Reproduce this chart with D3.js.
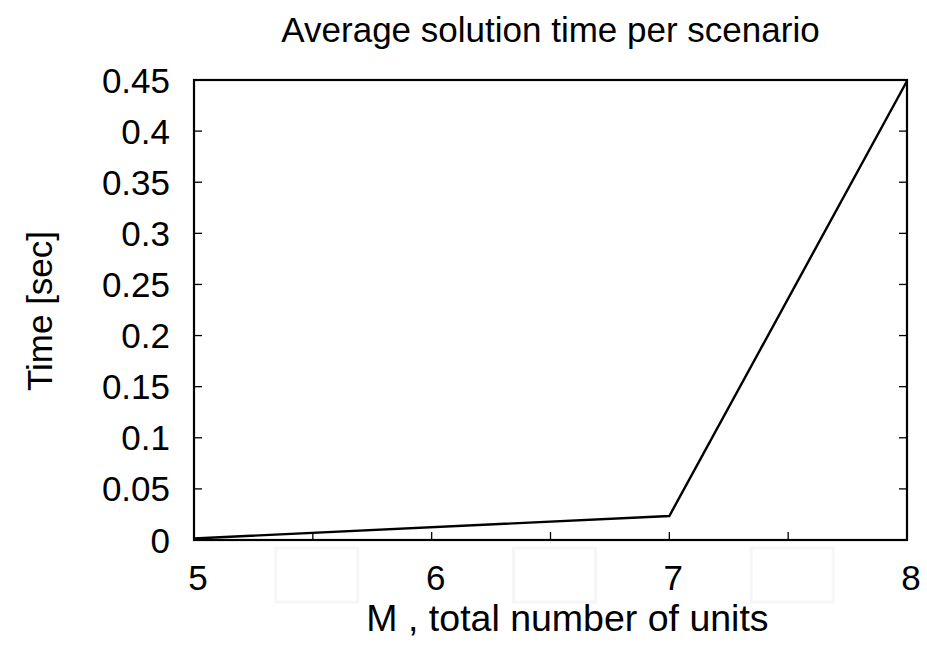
<!DOCTYPE html>
<html>
<head>
<meta charset="utf-8">
<script src="https://cdn.jsdelivr.net/npm/d3@7"></script>
<style>
  html, body { margin: 0; padding: 0; background: #fff; }
  svg { display: block; font-family: "Liberation Sans", Arial, Helvetica, sans-serif; }
</style>
</head>
<body>
<svg id="chart" width="927" height="649"></svg>
<script>
// Number of units M and the mean solve time per scenario (seconds)
const unitCounts = [5, 7, 8];
const solveTimes = [0.0015, 0.0235, 0.449];

// Axis ticks
const xMajorTicks = [5, 6, 7, 8];
const xHalfTicks = [5.5, 6.5, 7.5];
const yTicks = [0, 0.05, 0.1, 0.15, 0.2, 0.25, 0.3, 0.35, 0.4, 0.45];
const yTickLabels = ["0", "0.05", "0.1", "0.15", "0.2", "0.25", "0.3", "0.35", "0.4", "0.45"];

const titleText = "Average solution time per scenario";
const xLabelText = "M , total number of units";
const yLabelText = "Time [sec]";

const svg = d3.select("#chart");
const W = 927, H = 649;
const margin = { left: 194, right: 20, top: 80, bottom: 109 };
const x0 = margin.left, x1 = W - margin.right;
const y0 = H - margin.bottom, y1 = margin.top;

const x = d3.scaleLinear().domain([5, 8]).range([x0, x1]);
const y = d3.scaleLinear().domain([0, 0.45]).range([y0, y1]);

const fontSize = 35;
const tickLen = 8;

// Faint placeholder boxes under the half-step ticks
svg.append("g").selectAll("rect")
  .data(xHalfTicks)
  .join("rect")
  .attr("x", d => x(d) + 4 - 41)
  .attr("y", y0 + 8)
  .attr("width", 82)
  .attr("height", 54)
  .attr("fill", "none")
  .attr("stroke", "#f6f6f6")
  .attr("stroke-width", 3);

// Data line
const line = d3.line()
  .x((d, i) => x(unitCounts[i]))
  .y(d => y(d));

svg.append("path")
  .datum(solveTimes)
  .attr("d", line)
  .attr("fill", "none")
  .attr("stroke", "#000")
  .attr("stroke-width", 2.4)
  .attr("stroke-linejoin", "miter");

// Tick marks: inward on all four sides of the frame
const ticks = svg.append("g").attr("stroke", "#000").attr("stroke-width", 1.3);
const allX = xMajorTicks.concat(xHalfTicks);
ticks.selectAll("line.xb").data(allX).join("line")
  .attr("x1", d => x(d)).attr("x2", d => x(d))
  .attr("y1", y0).attr("y2", y0 - tickLen);
ticks.selectAll("line.yl").data(yTicks).join("line")
  .attr("x1", x0).attr("x2", x0 + tickLen)
  .attr("y1", d => y(d)).attr("y2", d => y(d));
ticks.selectAll("line.yr").data(yTicks).join("line")
  .attr("x1", x1).attr("x2", x1 - tickLen)
  .attr("y1", d => y(d)).attr("y2", d => y(d));

// Frame
svg.append("rect")
  .attr("x", x0).attr("y", y1)
  .attr("width", x1 - x0).attr("height", y0 - y1)
  .attr("fill", "none").attr("stroke", "#000").attr("stroke-width", 2.2);

// Y tick labels
svg.append("g").selectAll("text")
  .data(yTicks)
  .join("text")
  .attr("x", x0 - 24)
  .attr("y", d => y(d))
  .attr("dy", "0.36em")
  .attr("text-anchor", "end")
  .attr("font-size", fontSize)
  .attr("fill", "#000")
  .text((d, i) => yTickLabels[i]);

// X tick labels (integers only)
svg.append("g").selectAll("text")
  .data(xMajorTicks)
  .join("text")
  .attr("x", d => x(d) + 4)
  .attr("y", y0 + 50)
  .attr("text-anchor", "middle")
  .attr("font-size", fontSize)
  .attr("fill", "#000")
  .text(d => d3.format("d")(d));

// Title and axis titles
svg.append("text")
  .attr("x", (x0 + x1) / 2)
  .attr("y", 42)
  .attr("text-anchor", "middle")
  .attr("font-size", fontSize)
  .text(titleText);

svg.append("text")
  .attr("x", (x0 + x1) / 2 + 17)
  .attr("y", 631)
  .attr("text-anchor", "middle")
  .attr("font-size", 37.5)
  .text(xLabelText);

svg.append("text")
  .attr("transform", `translate(52,${(y0 + y1) / 2 + 1}) rotate(-90)`)
  .attr("text-anchor", "middle")
  .attr("font-size", fontSize)
  .text(yLabelText);
</script>
</body>
</html>
